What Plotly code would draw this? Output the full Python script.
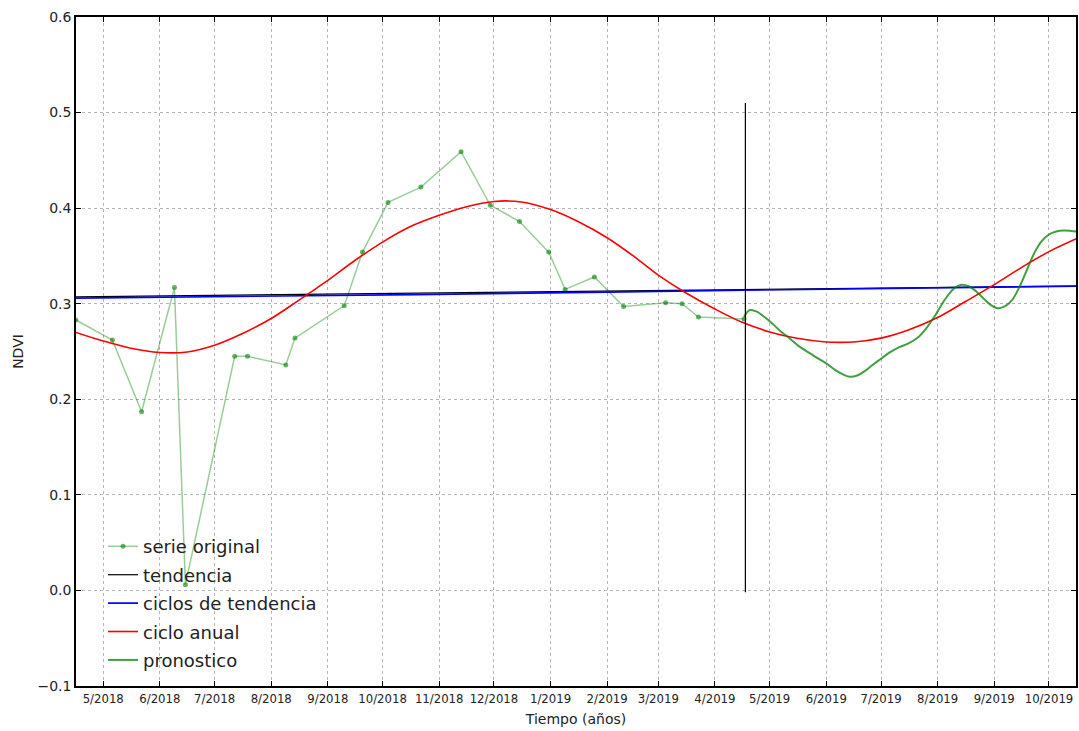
import plotly.graph_objects as go

# --- NDVI observations (serie original) ---
obs_dates = [
    "2018-04-16", "2018-05-06", "2018-05-22", "2018-06-09", "2018-06-15",
    "2018-07-12", "2018-07-19", "2018-08-09", "2018-08-14", "2018-09-10",
    "2018-09-20", "2018-10-04", "2018-10-22", "2018-11-13", "2018-11-29",
    "2018-12-15", "2018-12-31", "2019-01-09", "2019-01-25", "2019-02-10",
    "2019-03-05", "2019-03-14", "2019-03-23", "2019-04-17",
]
obs_ndvi = [
    0.283, 0.262, 0.187, 0.317, 0.006,
    0.245, 0.245, 0.236, 0.264, 0.298,
    0.354, 0.406, 0.422, 0.459, 0.403,
    0.386, 0.354, 0.315, 0.328, 0.297,
    0.301, 0.300, 0.286, 0.284,
]

# --- linear trend (tendencia) ---
trend_dates = ["2018-04-16", "2019-10-16"]
trend_ndvi = [0.3072, 0.3185]

# --- trend cycles (ciclos de tendencia) ---
cycle_dates = ["2018-04-16", "2018-10-19", "2019-04-17", "2019-10-16"]
cycle_ndvi = [0.3058, 0.3096, 0.3141, 0.3183]

# --- annual cycle (ciclo anual), twice a month ---
annual_dates = [
    "2018-04-16", "2018-05-01", "2018-05-16", "2018-06-01", "2018-06-16",
    "2018-07-01", "2018-07-16", "2018-08-01", "2018-08-16", "2018-09-01",
    "2018-09-16", "2018-10-01", "2018-10-16", "2018-11-01", "2018-11-16",
    "2018-12-01", "2018-12-16", "2019-01-01", "2019-01-16", "2019-02-01",
    "2019-02-16", "2019-03-01", "2019-03-16", "2019-04-01", "2019-04-16",
    "2019-05-01", "2019-05-16", "2019-06-01", "2019-06-16", "2019-07-01",
    "2019-07-16", "2019-08-01", "2019-08-16", "2019-09-01", "2019-09-16",
    "2019-10-01", "2019-10-16",
]
annual_ndvi = [
    0.270, 0.261, 0.2535, 0.249, 0.2495,
    0.2565, 0.2685, 0.2845, 0.3035, 0.3245,
    0.3455, 0.3645, 0.3805, 0.3925, 0.4015,
    0.407, 0.4065, 0.3985, 0.386, 0.369,
    0.349, 0.330, 0.3115, 0.2945, 0.2805,
    0.2705, 0.2638, 0.2600, 0.2600, 0.264,
    0.2725, 0.2855, 0.302, 0.320, 0.338,
    0.3545, 0.368,
]

# --- forecast (pronostico) ---
fc_dates = [
    "2019-04-17", "2019-04-20", "2019-04-24", "2019-04-28", "2019-05-01",
    "2019-05-07", "2019-05-12", "2019-05-17", "2019-05-22", "2019-05-27",
    "2019-06-01", "2019-06-06", "2019-06-11", "2019-06-14", "2019-06-18",
    "2019-06-22", "2019-06-26", "2019-07-01", "2019-07-06", "2019-07-11",
    "2019-07-16", "2019-07-21", "2019-07-26", "2019-07-31", "2019-08-05",
    "2019-08-10", "2019-08-14", "2019-08-18", "2019-08-22", "2019-08-26",
    "2019-08-30", "2019-09-03", "2019-09-07", "2019-09-11", "2019-09-15",
    "2019-09-19", "2019-09-23", "2019-09-27", "2019-10-01", "2019-10-05",
    "2019-10-09", "2019-10-13", "2019-10-16",
]
fc_ndvi = [
    0.2863, 0.2933, 0.2918, 0.2863, 0.2817,
    0.2713, 0.2636, 0.2556, 0.2493, 0.2434,
    0.2375, 0.2305, 0.2252, 0.2235, 0.2249,
    0.2294, 0.2354, 0.2424, 0.2493, 0.2545,
    0.2584, 0.2643, 0.2748, 0.2887, 0.3044,
    0.3159, 0.3198, 0.3183, 0.3131, 0.3058,
    0.2988, 0.2953, 0.2974, 0.3044, 0.3183,
    0.3358, 0.3532, 0.3654, 0.3724, 0.3755,
    0.3766, 0.3762, 0.3755,
]

# --- separator between observed and forecast periods ---
split_dates = ["2019-04-17 17:00", "2019-04-17 17:00"]
split_ndvi = [-0.002, 0.51]

x_range = ["2018-04-16 02:00", "2019-10-15 19:00"]
y_range = [-0.1, 0.6]

FONT = "DejaVu Sans, Verdana, sans-serif"
TICK_FONT = "Liberation Sans Narrow, DejaVu Sans Condensed, DejaVu Sans, sans-serif"

fig = go.Figure()

fig.add_trace(go.Scatter(
    x=obs_dates, y=obs_ndvi, mode="lines+markers", name="serie original",
    line=dict(color="rgba(0,128,0,0.4)", width=1.5),
    marker=dict(color="rgba(0,128,0,0.6)", size=5, line=dict(width=0)),
    legendgroup="a",
))
fig.add_trace(go.Scatter(
    x=trend_dates, y=trend_ndvi, mode="lines", name="tendencia",
    line=dict(color="black", width=1.2), legendgroup="b",
))
fig.add_trace(go.Scatter(
    x=cycle_dates, y=cycle_ndvi, mode="lines", name="ciclos de tendencia",
    line=dict(color="#0000ff", width=1.7, shape="spline"), legendgroup="c",
))
fig.add_trace(go.Scatter(
    x=annual_dates, y=annual_ndvi, mode="lines", name="ciclo anual",
    line=dict(color="#ff0000", width=1.6, shape="spline"), legendgroup="d",
))
fig.add_trace(go.Scatter(
    x=fc_dates, y=fc_ndvi, mode="lines", name="pronostico",
    line=dict(color="rgba(0,128,0,0.75)", width=2, shape="spline"),
    legendgroup="e",
))
fig.add_trace(go.Scatter(
    x=split_dates, y=split_ndvi, mode="lines", showlegend=False,
    line=dict(color="black", width=1.2),
))

axis_common = dict(
    showline=True, linecolor="black", linewidth=1.5, mirror="ticks",
    ticks="inside", ticklen=5, tickcolor="black", tickwidth=1,
    showgrid=True, gridcolor="#b5b5b5", gridwidth=1, griddash="3px,3px",
    zeroline=False,
)

fig.update_xaxes(
    type="date", range=x_range, tick0="2018-05-01", dtick="M1",
    tickformat="%-m/%Y", tickfont=dict(family=TICK_FONT, size=13, color="#222"),
    title=dict(text="Tiempo (años)", font=dict(family=FONT, size=14, color="#222"),
               standoff=9),
    **axis_common,
)
fig.update_yaxes(
    range=y_range, tick0=-0.1, dtick=0.1, tickformat=".1f",
    tickfont=dict(family=FONT, size=14, color="#222"),
    title=dict(text="NDVI", font=dict(family=FONT, size=14, color="#222"),
               standoff=11),
    **axis_common,
)

fig.update_layout(
    width=1079, height=731,
    margin=dict(l=76, r=1, t=17, b=45),
    paper_bgcolor="white", plot_bgcolor="white",
    font=dict(family=FONT, color="#222"),
    showlegend=True,
    legend=dict(
        x=0.027, y=0.236, xanchor="left", yanchor="top",
        bgcolor="rgba(0,0,0,0)", borderwidth=0,
        font=dict(family=FONT, size=18, color="#222"),
        traceorder="grouped", tracegroupgap=2, itemwidth=30,
    ),
)

fig.write_html("out.html")
